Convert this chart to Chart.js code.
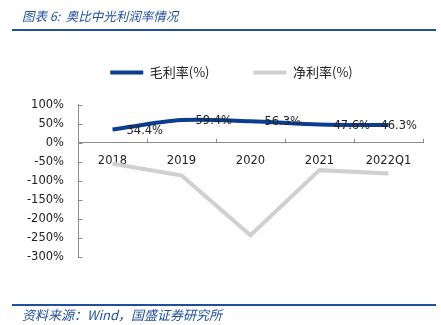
<!DOCTYPE html>
<html>
<head>
<meta charset="utf-8">
<script src="https://cdn.jsdelivr.net/npm/chart.js@4/dist/chart.umd.min.js"></script>
<style>
  html, body { margin: 0; padding: 0; background: #fff; }
  #wrap { position: relative; width: 441px; height: 325px; overflow: hidden; }
  #chart { position: absolute; left: 0; top: 0; }
  .hd { position: absolute; left: 22px; font-family: "Noto Sans CJK SC", sans-serif; font-style: italic; color: #1f4e9a; font-size: 12.5px; white-space: nowrap; }
  .rule { position: absolute; left: 12px; width: 424px; height: 2px; background: #1f4e9a; }
</style>
</head>
<body>
<div id="wrap">
  <canvas id="chart" width="441" height="325"></canvas>
  <div class="hd" style="top:6px">图表 6:&nbsp; 奥比中光利润率情况</div>
  <div class="rule" style="top:29px"></div>
  <div class="rule" style="top:304px"></div>
  <div class="hd" style="top:305px;font-size:13px">资料来源：Wind，国盛证券研究所</div>
</div>
<script>
const categorie = ["2018", "2019", "2020", "2021", "2022Q1"];
const margineLordo = [34.4, 59.4, 56.3, 47.6, 46.3];
const margineNetto = [-55, -86, -243, -72, -81];
const tickY = [100, 50, 0, -50, -100, -150, -200, -250, -300];

const fontTick = { family: "DejaVu Sans", size: 11.5 };

// etichette dei valori sulla serie blu
const etichette = {
  id: "etichette",
  afterDatasetsDraw(chart) {
    const ctx = chart.ctx;
    const area = chart.chartArea;
    const meta = chart.getDatasetMeta(0);
    ctx.save();
    ctx.font = "11.5px DejaVu Sans";
    ctx.fillStyle = "#222";
    ctx.textBaseline = "middle";
    ctx.textAlign = "left";
    meta.data.forEach((p, i) => {
      const txt = margineLordo[i].toFixed(1) + "%";
      const w = ctx.measureText(txt).width;
      let x = p.x + 14;
      if (x + w > area.right - 5) x = area.right - 6 - w;
      ctx.fillText(txt, x, p.y + 1);
    });
    ctx.restore();
  }
};

// tacche verso l'interno: asse x ai confini delle categorie, asse y sui valori
const tacche = {
  id: "tacche",
  afterDraw(chart) {
    const ctx = chart.ctx;
    const sx = chart.scales.x;
    const sy = chart.scales.y;
    const y0 = sy.getPixelForValue(0);
    const meta = chart.getDatasetMeta(0);
    const passo = meta.data.length > 1 ? meta.data[1].x - meta.data[0].x : 0;
    const xa = Math.round(chart.chartArea.left) + 0.5;
    ctx.save();
    ctx.strokeStyle = "#8c8c8c";
    ctx.lineWidth = 1;
    ctx.beginPath();
    for (let i = 1; i <= categorie.length; i++) {
      const x = Math.round(sx.getPixelForValue(0) - passo / 2 + i * passo) + 0.5;
      ctx.moveTo(x, y0);
      ctx.lineTo(x, y0 - 4);
    }
    tickY.forEach(v => {
      const y = Math.round(sy.getPixelForValue(v)) + 0.5;
      ctx.moveTo(xa, y);
      ctx.lineTo(xa + 4, y);
    });
    ctx.stroke();
    ctx.restore();
  }
};

// sposta un po' la legenda verso destra, come nell'originale
const spostaLegenda = {
  id: "spostaLegenda",
  afterLayout(chart) {
    if (chart.legend) {
      chart.legend.left += 20;
      chart.legend.right += 20;
    }
  }
};

new Chart(document.getElementById("chart"), {
  type: "line",
  data: {
    labels: categorie,
    datasets: [
      {
        label: "毛利率(%)",
        data: margineLordo,
        borderColor: "#0b3e91",
        backgroundColor: "#0b3e91",
        borderWidth: 4,
        pointRadius: 0,
        tension: 0.3
      },
      {
        label: "净利率(%)",
        data: margineNetto,
        borderColor: "#d0d0d0",
        backgroundColor: "#d0d0d0",
        borderWidth: 4,
        pointRadius: 0,
        tension: 0
      }
    ]
  },
  options: {
    responsive: false,
    animation: false,
    layout: { padding: { top: 22, right: 18, bottom: 68, left: 0 } },
    plugins: {
      legend: {
        position: "top",
        labels: {
          boxWidth: 33,
          boxHeight: 4,
          padding: 44,
          color: "#222",
          font: { family: "Noto Sans CJK SC", size: 13 },
          generateLabels: chart => Chart.defaults.plugins.legend.labels.generateLabels(chart)
            .map(l => Object.assign(l, { lineWidth: 0 }))
        }
      },
      subtitle: {
        display: true,
        text: " ",
        weight: 500,
        padding: 0,
        font: { size: 13 }
      },
      tooltip: { enabled: false }
    },
    scales: {
      x: {
        position: { y: 0 },
        offset: true,
        grid: { display: false, drawTicks: false },
        border: { color: "#8c8c8c" },
        ticks: { color: "#222", font: fontTick, padding: 11, maxRotation: 0 }
      },
      y: {
        min: -300,
        max: 100,
        afterFit: s => { s.width = 78; },
        afterBuildTicks: s => { s.ticks = tickY.map(v => ({ value: v })); },
        grid: { display: false, drawTicks: false },
        border: { color: "#8c8c8c" },
        ticks: { color: "#222", font: fontTick, padding: 14, autoSkip: false, callback: v => v + "%" }
      }
    }
  },
  plugins: [etichette, tacche, spostaLegenda]
});
</script>
</body>
</html>
